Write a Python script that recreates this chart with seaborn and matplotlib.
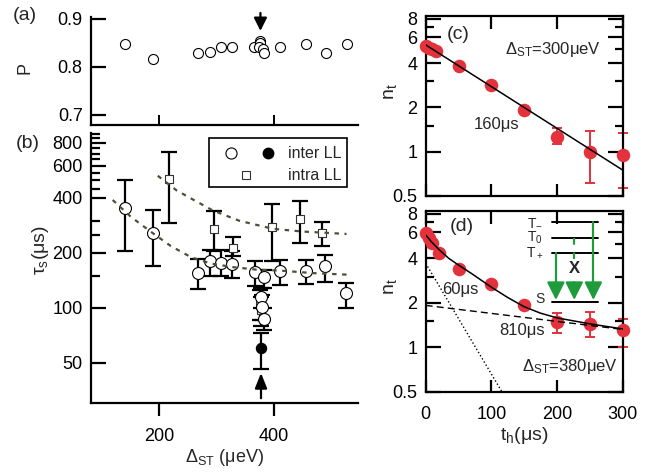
import numpy as np
import seaborn as sns
import matplotlib.pyplot as plt
from matplotlib.patches import Rectangle
from matplotlib.ticker import NullFormatter

# (a) polarization P vs Delta_ST
a_delta = [139, 188, 268, 288, 308, 328, 365, 376, 377, 374, 381, 384, 412, 456, 492, 528]
a_p = [0.847, 0.816, 0.829, 0.832, 0.842, 0.842, 0.842, 0.853, 0.849, 0.842, 0.837, 0.829,
       0.842, 0.847, 0.829, 0.847]

# (b) tau_s vs Delta_ST, inter LL (open), value with lower / upper error bound
inter_x = [140, 188, 268, 288, 308, 328, 367, 383, 412, 456, 491, 527, 378, 379, 383]
inter_tau = [353, 257, 156, 181, 177, 175, 157, 147, 159, 160, 169, 120, 114, 101, 87]
inter_lo = [206, 169, 127, 150, 149, 145, 131, 129, 134, 135, 138, 100, 100, 86, 76]
inter_hi = [501, 343, 185, 208, 208, 206, 181, 162, 183, 183, 195, 137, 128, 118, 100]

# inter LL filled point (arrow)
fill_x = [378]
fill_tau = [60]
fill_lo = [46]
fill_hi = [72.5]

# intra LL (squares)
intra_x = [217, 295, 329, 398, 447, 485, 376, 378]
intra_tau = [505, 271, 212, 278, 307, 256, 104, 97]
intra_lo = [290, 206, 193, 180, 227, 217, 86, 80]
intra_hi = [716, 341, 243, 371, 386, 297, 125, 115]

# dashed guide curves
fit_inter_x = [118, 150, 188, 220, 256, 290, 330, 370, 412, 470, 530]
fit_inter_y = [390, 315, 257, 218, 189, 175, 167, 162, 160, 155, 152]
fit_intra_x = [197, 230, 260, 294, 340, 399, 450, 528]
fit_intra_y = [529, 440, 390, 341, 300, 271, 262, 254]

# (c) n_t vs t_h, Delta_ST = 300 ueV
c_t = [0, 5, 10, 15, 50, 100, 150, 200, 250, 300]
c_n = [5.2, 5.1, 5.0, 4.8, 3.83, 2.84, 1.92, 1.265, 1.0, 0.95]
c_err_t = [200, 250, 300]
c_err_n = [1.265, 1.0, 0.95]
c_err_lo = [1.12, 0.61, 0.57]
c_err_hi = [1.44, 1.38, 1.35]
c_fit_t = [0, 300]
c_fit_n = [5.32, 0.75]

# (d) n_t vs t_h, Delta_ST = 380 ueV
d_t = [0, 5, 10, 20, 50, 100, 150, 200, 250, 300]
d_n = [5.9, 5.5, 5.1, 4.35, 3.41, 2.70, 1.92, 1.48, 1.44, 1.30]
d_err_t = [200, 250, 300]
d_err_n = [1.48, 1.44, 1.30]
d_err_lo = [1.245, 1.17, 1.0]
d_err_hi = [1.70, 1.73, 1.56]
d_fit_t = [0, 10, 20, 35, 50, 70, 100, 125, 150, 175, 200, 250, 300]
d_fit_n = [5.75, 5.1, 4.6, 4.0, 3.6, 3.15, 2.55, 2.17, 1.88, 1.70, 1.58, 1.44, 1.33]
d_fast_t = [0, 116]
d_fast_n = [3.7, 0.5]
d_slow_t = [0, 300]
d_slow_n = [1.92, 1.32]

RED = '#e3323b'
GREEN = '#1f9b3b'
OLIVE = '#4f4f35'

sns.set_style('ticks')
plt.rcParams['font.family'] = ['Liberation Sans', 'DejaVu Sans']
plt.rcParams['mathtext.fontset'] = 'custom'
plt.rcParams['mathtext.rm'] = 'Liberation Sans'
plt.rcParams['mathtext.it'] = 'Liberation Sans'
plt.rcParams['mathtext.bf'] = 'Liberation Sans:bold'
plt.rcParams['axes.linewidth'] = 1.6
plt.rcParams['axes.edgecolor'] = 'black'
plt.rcParams['xtick.color'] = 'black'
plt.rcParams['ytick.color'] = 'black'

fig = plt.figure(figsize=(6.6, 4.74), dpi=100)
ax_a = fig.add_axes([0.1379, 0.7363, 0.4045, 0.2278])
ax_b = fig.add_axes([0.1379, 0.149, 0.4045, 0.570])
ax_c = fig.add_axes([0.645, 0.5865, 0.2985, 0.3804])
ax_d = fig.add_axes([0.645, 0.1736, 0.2985, 0.3819])


def err(vals, lo, hi):
    v = np.array(vals, float)
    return [v - np.array(lo), np.array(hi) - v]


def arrow(ax, tip, tail, color, hl, hw, scale, lw=1.6, coords='data'):
    ax.annotate('', xy=tip, xytext=tail, xycoords=coords, annotation_clip=False,
                arrowprops=dict(arrowstyle=f'-|>,head_length={hl},head_width={hw}',
                                color=color, lw=lw, mutation_scale=scale,
                                shrinkA=0, shrinkB=0))


# ---- (a)
sns.scatterplot(x=a_delta, y=a_p, ax=ax_a, marker='o', s=52, facecolor='white',
                edgecolor='black', linewidth=0.8, zorder=3)
ax_a.set_xlim(80, 548)
ax_a.set_ylim(0.679, 0.904)
ax_a.set_xticks([200, 400])
ax_a.set_xticklabels([])
ax_a.set_yticks([0.7, 0.8, 0.9])
ax_a.set_yticklabels(['0.7', '0.8', '0.9'])
ax_a.tick_params(axis='x', direction='in', length=7, width=1.4)
ax_a.tick_params(axis='y', direction='in', length=11, width=1.6, labelsize=13, pad=6)
ax_a.set_ylabel('P', fontsize=13)
ax_a.yaxis.label.set_va('center')
ax_a.yaxis.set_label_coords(-0.247, 0.53)
sns.despine(ax=ax_a)
arrow(ax_a, (377, 0.875), (377, 0.9125), 'black', 0.6, 0.3, 13)

# ---- (b)
ax_b.set_yscale('log')
for xs, ys, lo, hi in [(inter_x, inter_tau, inter_lo, inter_hi),
                       (intra_x, intra_tau, intra_lo, intra_hi),
                       (fill_x, fill_tau, fill_lo, fill_hi)]:
    ax_b.errorbar(xs, ys, yerr=err(ys, lo, hi), fmt='none', ecolor='black',
                  elinewidth=1.6, capsize=5.5, capthick=1.6, zorder=1)
sns.scatterplot(x=intra_x, y=intra_tau, ax=ax_b, marker='s', s=33, facecolor='white',
                edgecolor='#333333', linewidth=0.8, zorder=3)
sns.scatterplot(x=inter_x, y=inter_tau, ax=ax_b, marker='o', s=74, facecolor='white',
                edgecolor='black', linewidth=0.8, zorder=3)
sns.scatterplot(x=fill_x, y=fill_tau, ax=ax_b, marker='o', s=55, facecolor='black',
                edgecolor='black', linewidth=0.8, zorder=3)
sns.lineplot(x=fit_inter_x, y=fit_inter_y, ax=ax_b, color=OLIVE, lw=1.6,
             linestyle=(0, (2, 2.5)), estimator=None, sort=False, zorder=4)
sns.lineplot(x=fit_intra_x, y=fit_intra_y, ax=ax_b, color=OLIVE, lw=1.6,
             linestyle=(0, (2, 2.5)), estimator=None, sort=False, zorder=4)
ax_b.set_xlim(80, 548)
ax_b.set_ylim(30, 905)
ax_b.set_yticks([50, 100, 200, 400, 600, 800])
ax_b.set_yticklabels(['50', '100', '200', '400', '600', '800'])
ax_b.set_yticks([150, 250, 300, 450, 500, 550, 650, 700, 750, 850, 900], minor=True)
ax_b.yaxis.set_minor_formatter(NullFormatter())
ax_b.set_xticks([200, 400])
ax_b.set_xticklabels(['200', '400'])
ax_b.tick_params(axis='x', direction='out', length=9.5, width=1.6, labelsize=13, pad=8)
ax_b.tick_params(axis='y', which='major', direction='in', length=11, width=1.6,
                 labelsize=13, pad=6)
ax_b.tick_params(axis='y', which='minor', direction='in', length=6.5, width=1.6)
ax_b.set_xlabel(r'$\Delta_{\mathrm{ST}}$ (μeV)', fontsize=13, labelpad=2)
ax_b.set_ylabel(r'$\tau_{\mathrm{s}}$(μs)', fontsize=14)
ax_b.yaxis.label.set_va('center')
ax_b.yaxis.set_label_coords(-0.19, 0.567)
sns.despine(ax=ax_b)
arrow(ax_b, (378, 44), (378, 32), 'black', 0.7, 0.28, 13)

# legend box drawn by hand: two markers on the first row, one on the second
ax_b.add_patch(Rectangle((0.442, 0.800), 0.517, 0.181, transform=ax_b.transAxes,
                         fill=True, fc='white', ec='black', lw=1.2, zorder=6))
ax_b.plot([0.524], [0.925], transform=ax_b.transAxes, marker='o', ms=8, mfc='white',
          mec='black', mew=0.8, zorder=7)
ax_b.plot([0.663], [0.925], transform=ax_b.transAxes, marker='o', ms=7.5, mfc='black',
          mec='black', zorder=7)
ax_b.plot([0.581], [0.844], transform=ax_b.transAxes, marker='s', ms=6, mfc='white',
          mec='#333333', mew=0.8, zorder=7)
ax_b.text(0.738, 0.925, 'inter LL', transform=ax_b.transAxes, fontsize=11.5,
          ha='left', va='center', zorder=7)
ax_b.text(0.738, 0.844, 'intra LL', transform=ax_b.transAxes, fontsize=11.5,
          ha='left', va='center', zorder=7)


# ---- (c), (d)
def decay_panel(ax, t, n, et, en, elo, ehi):
    ax.set_yscale('log')
    ax.errorbar(et, en, yerr=err(en, elo, ehi), fmt='none', ecolor=RED,
                elinewidth=1.4, capsize=3.8, capthick=1.4, zorder=2, clip_on=False)
    sns.scatterplot(x=t, y=n, ax=ax, marker='o', s=95, color=RED, edgecolor=RED,
                    linewidth=0, zorder=3, clip_on=False)
    ax.set_xlim(0, 300)
    ax.set_ylim(0.5, 8.4)
    ax.set_yticks([0.5, 1, 2, 4, 6, 8])
    ax.set_yticklabels(['0.5', '1', '2', '4', '6', '8'])
    ax.set_yticks([1.5, 3, 5, 7], minor=True)
    ax.yaxis.set_minor_formatter(NullFormatter())
    ax.set_xticks([0, 100, 200, 300])
    ax.tick_params(axis='both', which='both', direction='in', top=True, right=True,
                   width=1.6)
    ax.tick_params(axis='y', which='major', length=11, labelsize=13, pad=6)
    ax.tick_params(axis='y', which='minor', length=6)
    ax.tick_params(axis='x', length=9, labelsize=13, pad=10)
    for s in ax.spines.values():
        s.set_visible(True)
    ax.set_ylabel(r'$\mathrm{n_t}$', fontsize=14)
    ax.yaxis.label.set_va('center')
    ax.yaxis.set_label_coords(-0.18, 0.58)


decay_panel(ax_c, c_t, c_n, c_err_t, c_err_n, c_err_lo, c_err_hi)
sns.lineplot(x=c_fit_t, y=c_fit_n, ax=ax_c, color='black', lw=1.1, estimator=None,
             sort=False, zorder=4)
ax_c.set_xticklabels([])
ax_c.text(0.164, 0.893, '(c)', transform=ax_c.transAxes, fontsize=14, ha='center',
          va='center')
ax_c.text(0.646, 0.815, r'$\Delta_{\mathrm{ST}}$=300μeV', transform=ax_c.transAxes,
          fontsize=12, ha='center', va='center')
ax_c.text(0.36, 0.394, '160μs', transform=ax_c.transAxes, fontsize=12, ha='center',
          va='center')

decay_panel(ax_d, d_t, d_n, d_err_t, d_err_n, d_err_lo, d_err_hi)
sns.lineplot(x=d_fit_t, y=d_fit_n, ax=ax_d, color='black', lw=1.1, estimator=None,
             sort=False, zorder=4)
sns.lineplot(x=d_fast_t, y=d_fast_n, ax=ax_d, color='black', lw=1.0, linestyle=':',
             estimator=None, sort=False, zorder=4)
sns.lineplot(x=d_slow_t, y=d_slow_n, ax=ax_d, color='black', lw=1.0,
             linestyle=(0, (5, 3)), estimator=None, sort=False, zorder=4)
ax_d.set_xticklabels(['0', '100', '200', '300'])
ax_d.set_xlabel(r'$\mathrm{t_h}$(μs)', fontsize=14, labelpad=2)
ax_d.text(0.183, 0.912, '(d)', transform=ax_d.transAxes, fontsize=14, ha='center',
          va='center')
ax_d.text(0.174, 0.566, '60μs', transform=ax_d.transAxes, fontsize=12, ha='center',
          va='center')
ax_d.text(0.487, 0.337, '810μs', transform=ax_d.transAxes, fontsize=12, ha='center',
          va='center')
ax_d.text(0.733, 0.142, r'$\Delta_{\mathrm{ST}}$=380μeV', transform=ax_d.transAxes,
          fontsize=12, ha='center', va='center')

# energy level inset in (d)
lev_x0, lev_x1 = 0.640, 0.876
levels = {'T$_{-}$': 0.939, 'T$_0$': 0.851, 'T$_+$': 0.765}
for lab, yy in levels.items():
    ax_d.plot([lev_x0, lev_x1], [yy, yy], transform=ax_d.transAxes, color='black',
              lw=1.4, zorder=5)
    ax_d.text(0.555, yy, lab, transform=ax_d.transAxes, fontsize=10, ha='center',
              va='center', zorder=5)
ax_d.plot([lev_x0, lev_x1], [0.494, 0.494], transform=ax_d.transAxes, color='black',
          lw=1.4, zorder=5)
ax_d.text(0.578, 0.512, 'S', transform=ax_d.transAxes, fontsize=10, ha='center',
          va='center', zorder=5)

arrow_x = [0.661, 0.754, 0.851]
arrow_top = [0.765, 0.851, 0.939]
arrow_ls = ['-', (0, (3, 3.5)), '-']
for xx, yt, ls in zip(arrow_x, arrow_top, arrow_ls):
    ax_d.plot([xx, xx], [yt, 0.58], transform=ax_d.transAxes, color=GREEN, lw=1.6,
              linestyle=ls, zorder=6)
    arrow(ax_d, (xx, 0.507), (xx, 0.595), GREEN, 0.54, 0.27, 20,
          coords='axes fraction')
ax_d.text(0.754, 0.682, 'X', transform=ax_d.transAxes, fontsize=12, fontweight='bold',
          ha='center', va='center', zorder=7,
          bbox=dict(boxstyle='square,pad=0.1', fc='white', ec='none'))

fig.text(25 / 660, 1 - 15 / 474, '(a)', fontsize=14, ha='center', va='center')
fig.text(28 / 660, 1 - 143 / 474, '(b)', fontsize=14, ha='center', va='center')

fig.savefig('out.png', dpi=100)
